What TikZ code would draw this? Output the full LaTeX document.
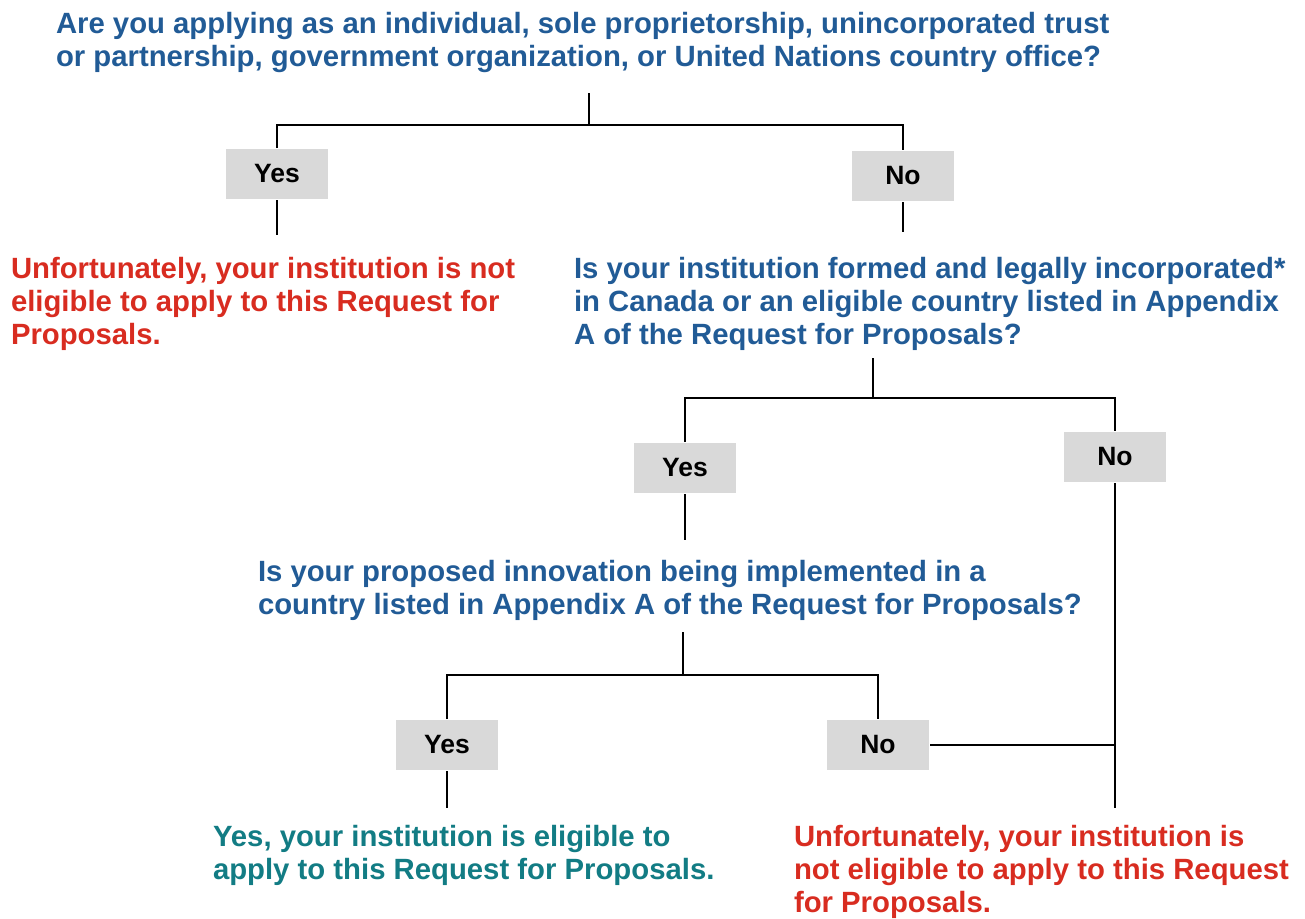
\documentclass[tikz,border=0pt]{standalone}
\usepackage{fontspec}
\setmainfont{Liberation Sans}
\definecolor{qblue}{RGB}{33,91,150}
\definecolor{nored}{RGB}{216,44,32}
\definecolor{okteal}{RGB}{18,124,132}
\definecolor{boxgray}{RGB}{217,217,217}
\begin{document}
\begin{tikzpicture}[x=1pt,y=-1pt,line width=2pt,
  ask/.style={anchor=north west,inner sep=0pt,align=left,text=qblue,font=\bfseries\fontsize{29.3}{33.2}\selectfont},
  nope/.style={ask,text=nored},
  okay/.style={ask,text=okteal},
  answer/.style={fill=boxgray,minimum width=102pt,minimum height=50pt,inner sep=0pt,font=\bfseries\fontsize{26.5}{30}\selectfont}]
\useasboundingbox (0,0) rectangle (1305,918);

\node[ask] (q1) at (55,11) {Are you applying as an individual, sole proprietorship, unincorporated trust\\or partnership, government organization, or United Nations country office?};
\coordinate (t1) at (589,93);
\coordinate (j1) at (589,125);
\node[answer] (yes1) at (277,174) {Yes};
\node[answer] (no1) at (903,176) {No};
\coordinate (e1) at (277,235);
\coordinate (e2) at (903,232);
\draw (t1)--(j1);
\draw (yes1.north) |- (j1) -| (no1.north);
\draw (yes1.south)--(e1);
\draw (no1.south)--(e2);

\node[nope] (stop1) at (10,256) {Unfortunately, your institution is not\\eligible to apply to this Request for\\Proposals.};
\node[ask] (q2) at (573,256) {Is your institution formed and legally incorporated*\\in Canada or an eligible country listed in Appendix\\A of the Request for Proposals?};
\coordinate (t2) at (873,358);
\coordinate (j2) at (873,398);
\node[answer] (yes2) at (685,468) {Yes};
\node[answer] (no2) at (1115,457) {No};
\coordinate (e3) at (685,540);
\coordinate (e5) at (1115,808);
\draw (t2)--(j2);
\draw (yes2.north) |- (j2) -| (no2.north);
\draw (yes2.south)--(e3);
\draw (no2.south)--(e5);

\node[ask] (q3) at (257,559) {Is your proposed innovation being implemented in a\\country listed in Appendix A of the Request for Proposals?};
\coordinate (t3) at (683,632);
\coordinate (j3) at (683,675);
\node[answer] (yes3) at (447,745) {Yes};
\node[answer] (no3) at (878,745) {No};
\coordinate (e4) at (447,808);
\draw (t3)--(j3);
\draw (yes3.north) |- (j3) -| (no3.north);
\draw (yes3.south)--(e4);
\draw (no3.east)--(no3.east -| e5);

\node[okay] (go) at (212,824) {Yes, your institution is eligible to\\apply to this Request for Proposals.};
\node[nope] (stop2) at (793,824) {Unfortunately, your institution is\\not eligible to apply to this Request\\for Proposals.};
\end{tikzpicture}
\end{document}
